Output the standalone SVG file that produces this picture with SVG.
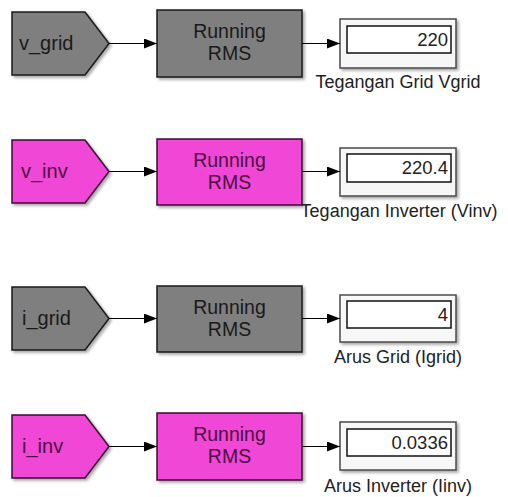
<svg xmlns="http://www.w3.org/2000/svg" width="508" height="497" viewBox="0 0 508 497">
<defs>
<filter id="sh" x="-10%" y="-10%" width="130%" height="130%">
<feDropShadow dx="2" dy="2" stdDeviation="1.5" flood-color="#000" flood-opacity="0.35"/>
</filter>
<marker id="ah" markerWidth="13" markerHeight="10" refX="13" refY="5" orient="auto" markerUnits="userSpaceOnUse">
<path d="M0,0 L13,5 L0,10 Z" fill="#000"/>
</marker>
<style>
text{font-family:"Liberation Sans",Arial,sans-serif}
.gray{fill:#7f7f7f;stroke:#1a1a1a;stroke-width:1.5}
.mag{fill:#f046d6;stroke:#3f0a36;stroke-width:1.5}
.tg{fill:#1a1a1a}
.tm{fill:#4d1040}
.goto{font-size:20px}
.rms{font-size:19.5px;text-anchor:middle}
.dout{fill:#f7f7f7;stroke:#4a4a4a;stroke-width:1.5}
.din{fill:#fff;stroke:#111;stroke-width:1.5}
.val{font-size:18.5px;text-anchor:end;fill:#222}
.lbl{font-size:18px;text-anchor:middle;fill:#222}
.wire{stroke:#000;stroke-width:1.2;fill:none;marker-end:url(#ah)}
</style>
</defs>
<rect width="508" height="497" fill="#fff"/>

<g id="goto_v_grid">
<path class="gray" filter="url(#sh)" d="M12,12 H85 L109,43.5 L85,75 H12 Z"/>
<text class="goto tg" x="19" y="50">v_grid</text>
</g>
<g id="rms1">
<rect class="gray" filter="url(#sh)" x="157" y="10" width="145" height="67"/>
<text class="rms tg" x="229.5" y="38">Running</text>
<text class="rms tg" x="229.5" y="60">RMS</text>
</g>
<g id="disp1">
<rect class="dout" filter="url(#sh)" x="340" y="19" width="116" height="49"/>
<rect class="din" x="347" y="26" width="104" height="27"/>
<text class="val" x="448" y="46">220</text>
<text class="lbl" x="398" y="88">Tegangan Grid Vgrid</text>
</g>

<g id="goto_v_inv">
<path class="mag" filter="url(#sh)" d="M12,140 H85 L109,171.5 L85,203 H12 Z"/>
<text class="goto tm" x="21" y="178">v_inv</text>
</g>
<g id="rms2">
<rect class="mag" filter="url(#sh)" x="157" y="139" width="145" height="66"/>
<text class="rms tm" x="229.5" y="166.5">Running</text>
<text class="rms tm" x="229.5" y="188.5">RMS</text>
</g>
<g id="disp2">
<rect class="dout" filter="url(#sh)" x="340" y="148" width="116" height="48"/>
<rect class="din" x="347" y="154" width="104" height="28"/>
<text class="val" x="448" y="174">220.4</text>
<text class="lbl" x="399" y="217">Tegangan Inverter (Vinv)</text>
</g>

<g id="goto_i_grid">
<path class="gray" filter="url(#sh)" d="M12,287 H85 L109,318.5 L85,350 H12 Z"/>
<text class="goto tg" x="22" y="325">i_grid</text>
</g>
<g id="rms3">
<rect class="gray" filter="url(#sh)" x="157" y="286" width="145" height="66"/>
<text class="rms tg" x="229.5" y="313.5">Running</text>
<text class="rms tg" x="229.5" y="335.5">RMS</text>
</g>
<g id="disp3">
<rect class="dout" filter="url(#sh)" x="340" y="295" width="116" height="47"/>
<rect class="din" x="347" y="301" width="104" height="27"/>
<text class="val" x="448" y="321">4</text>
<text class="lbl" x="398" y="363">Arus Grid (Igrid)</text>
</g>

<g id="goto_i_inv">
<path class="mag" filter="url(#sh)" d="M12,415 H85 L109,446.5 L85,478 H12 Z"/>
<text class="goto tm" x="22" y="453">i_inv</text>
</g>
<g id="rms4">
<rect class="mag" filter="url(#sh)" x="157" y="413" width="145" height="67"/>
<text class="rms tm" x="229.5" y="441">Running</text>
<text class="rms tm" x="229.5" y="463">RMS</text>
</g>
<g id="disp4">
<rect class="dout" filter="url(#sh)" x="340" y="422" width="116" height="48"/>
<rect class="din" x="347" y="429" width="104" height="27"/>
<text class="val" x="448" y="449">0.0336</text>
<text class="lbl" x="398" y="492">Arus Inverter (Iinv)</text>
</g>

<g id="connectors">
<line class="wire" x1="109" y1="43.5" x2="157" y2="43.5"/>
<line class="wire" x1="302" y1="43.5" x2="340" y2="43.5"/>
<line class="wire" x1="109" y1="171.5" x2="157" y2="171.5"/>
<line class="wire" x1="302" y1="171.5" x2="340" y2="171.5"/>
<line class="wire" x1="109" y1="318.5" x2="157" y2="318.5"/>
<line class="wire" x1="302" y1="318.5" x2="340" y2="318.5"/>
<line class="wire" x1="109" y1="446.5" x2="157" y2="446.5"/>
<line class="wire" x1="302" y1="446.5" x2="340" y2="446.5"/>
</g>
</svg>
